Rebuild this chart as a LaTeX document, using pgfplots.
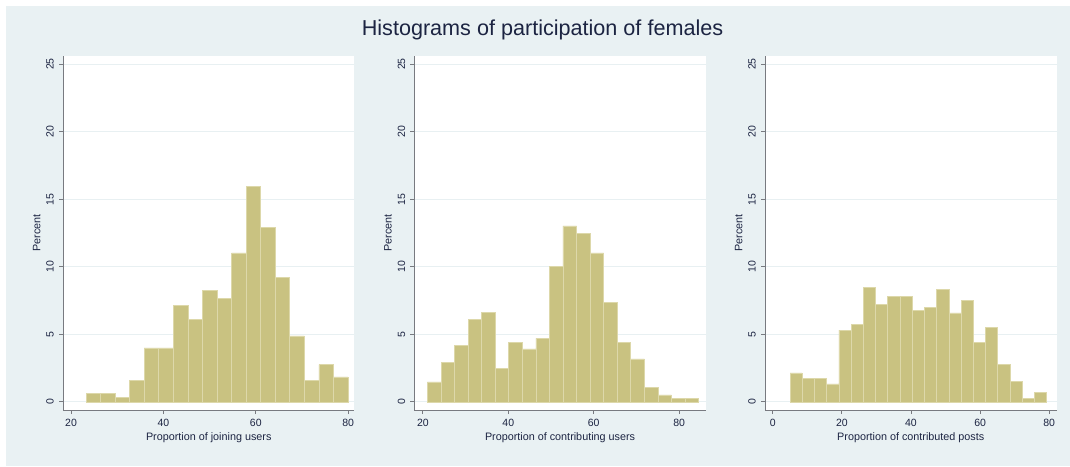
\documentclass[border=0pt]{standalone}
\usepackage{fontspec}
\setmainfont{Liberation Sans}
\usepackage{pgfplots}
\pgfplotsset{compat=1.18}
\definecolor{bg}{RGB}{233,241,243}
\definecolor{khaki}{RGB}{201,194,129}
\definecolor{khakiline}{RGB}{221,216,170}
\definecolor{gridc}{RGB}{232,240,242}
\definecolor{axc}{RGB}{120,122,128}
\definecolor{txt}{RGB}{28,36,66}

\pgfplotstableread{
x y
23.25 0.62
26.40 0.62
29.55 0.32
32.70 1.58
35.85 3.99
39.00 3.99
42.15 7.12
45.30 6.10
48.45 8.28
51.60 7.68
54.75 11.03
57.90 15.94
61.05 12.90
64.20 9.24
67.35 4.88
70.50 1.58
73.65 2.76
76.80 1.85
79.95 1.85
}\joining

\pgfplotstableread{
x y
21.08 1.48
24.25 2.93
27.43 4.19
30.60 6.13
33.77 6.65
36.95 2.46
40.12 4.43
43.29 3.92
46.46 4.70
49.64 10.02
52.81 13.03
55.98 12.46
59.16 11.03
62.33 7.36
65.50 4.43
68.68 3.18
71.85 1.06
75.02 0.52
78.19 0.25
81.37 0.25
84.54 0.25
}\contributing

\pgfplotstableread{
x y
5.00 2.14
8.54 1.75
12.07 1.75
15.61 1.33
19.14 5.32
22.68 5.76
26.22 8.47
29.75 7.19
33.29 7.83
36.82 7.83
40.36 6.75
43.90 7.02
47.43 8.30
50.97 6.58
54.50 7.49
58.04 4.43
61.58 5.52
65.11 2.76
68.65 1.50
72.18 0.25
75.72 0.71
79.26 0.71
}\posts

\pgfplotsset{
  statahist/.style={
    scale only axis, width=291.5pt, height=354pt, anchor=south west,
    axis background/.style={fill=white},
    axis x line*=bottom, axis y line*=left,
    axis line style={draw=axc, line width=0.9pt, -},
    ymin=-0.6, ymax=25.6, ytick={0,5,...,25},
    ymajorgrids, grid style={draw=gridc, line width=0.9pt},
    tick align=outside, major tick length=4pt,
    tick style={draw=axc, line width=0.8pt},
    tick label style={font=\fontsize{10.5}{12}\selectfont, text=txt},
    /pgf/number format/assume math mode=true,
    yticklabel style={rotate=90, anchor=south, inner sep=0pt},
    xticklabel style={anchor=north, inner sep=0pt},
    yticklabel shift=5pt, xticklabel shift=5pt,
    every axis y label/.style={at={(axis description cs:-0.0902,0.5)}, rotate=90, anchor=center, font=\fontsize{10.8}{13}\selectfont, text=txt},
    every axis x label/.style={at={(axis description cs:0.5,-0.0782)}, anchor=center, font=\fontsize{10.8}{13}\selectfont, text=txt},
    ylabel={Percent},
    enlargelimits=false,
  },
  histbar/.style={ybar interval, fill=khaki, draw=khakiline, line width=0.6pt},
}

\begin{document}
\begin{tikzpicture}[x=1pt,y=1pt]
\fill[white] (0,0) rectangle (1070,466);
\fill[bg] (6,0) rectangle (1070,460);
\node[anchor=base, font=\fontsize{21.6}{26}\selectfont, text=txt] at (542.5,430) {Histograms of participation of females};

\begin{axis}[statahist, at={(63pt,56pt)},
  xmin=18.26, xmax=81.37, xtick={20,40,60,80},
  xlabel={Proportion of joining users}]
\addplot[histbar] table[x=x,y=y] {\joining};
\end{axis}

\begin{axis}[statahist, at={(414.3pt,56pt)},
  xmin=18.0, xmax=86.25, xtick={20,40,60,80},
  xlabel={Proportion of contributing users}]
\addplot[histbar] table[x=x,y=y] {\contributing};
\end{axis}

\begin{axis}[statahist, at={(765pt,56pt)},
  xmin=-2.23, xmax=82.1, xtick={0,20,40,60,80},
  xlabel={Proportion of contributed posts}]
\addplot[histbar] table[x=x,y=y] {\posts};
\end{axis}
\end{tikzpicture}
\end{document}
